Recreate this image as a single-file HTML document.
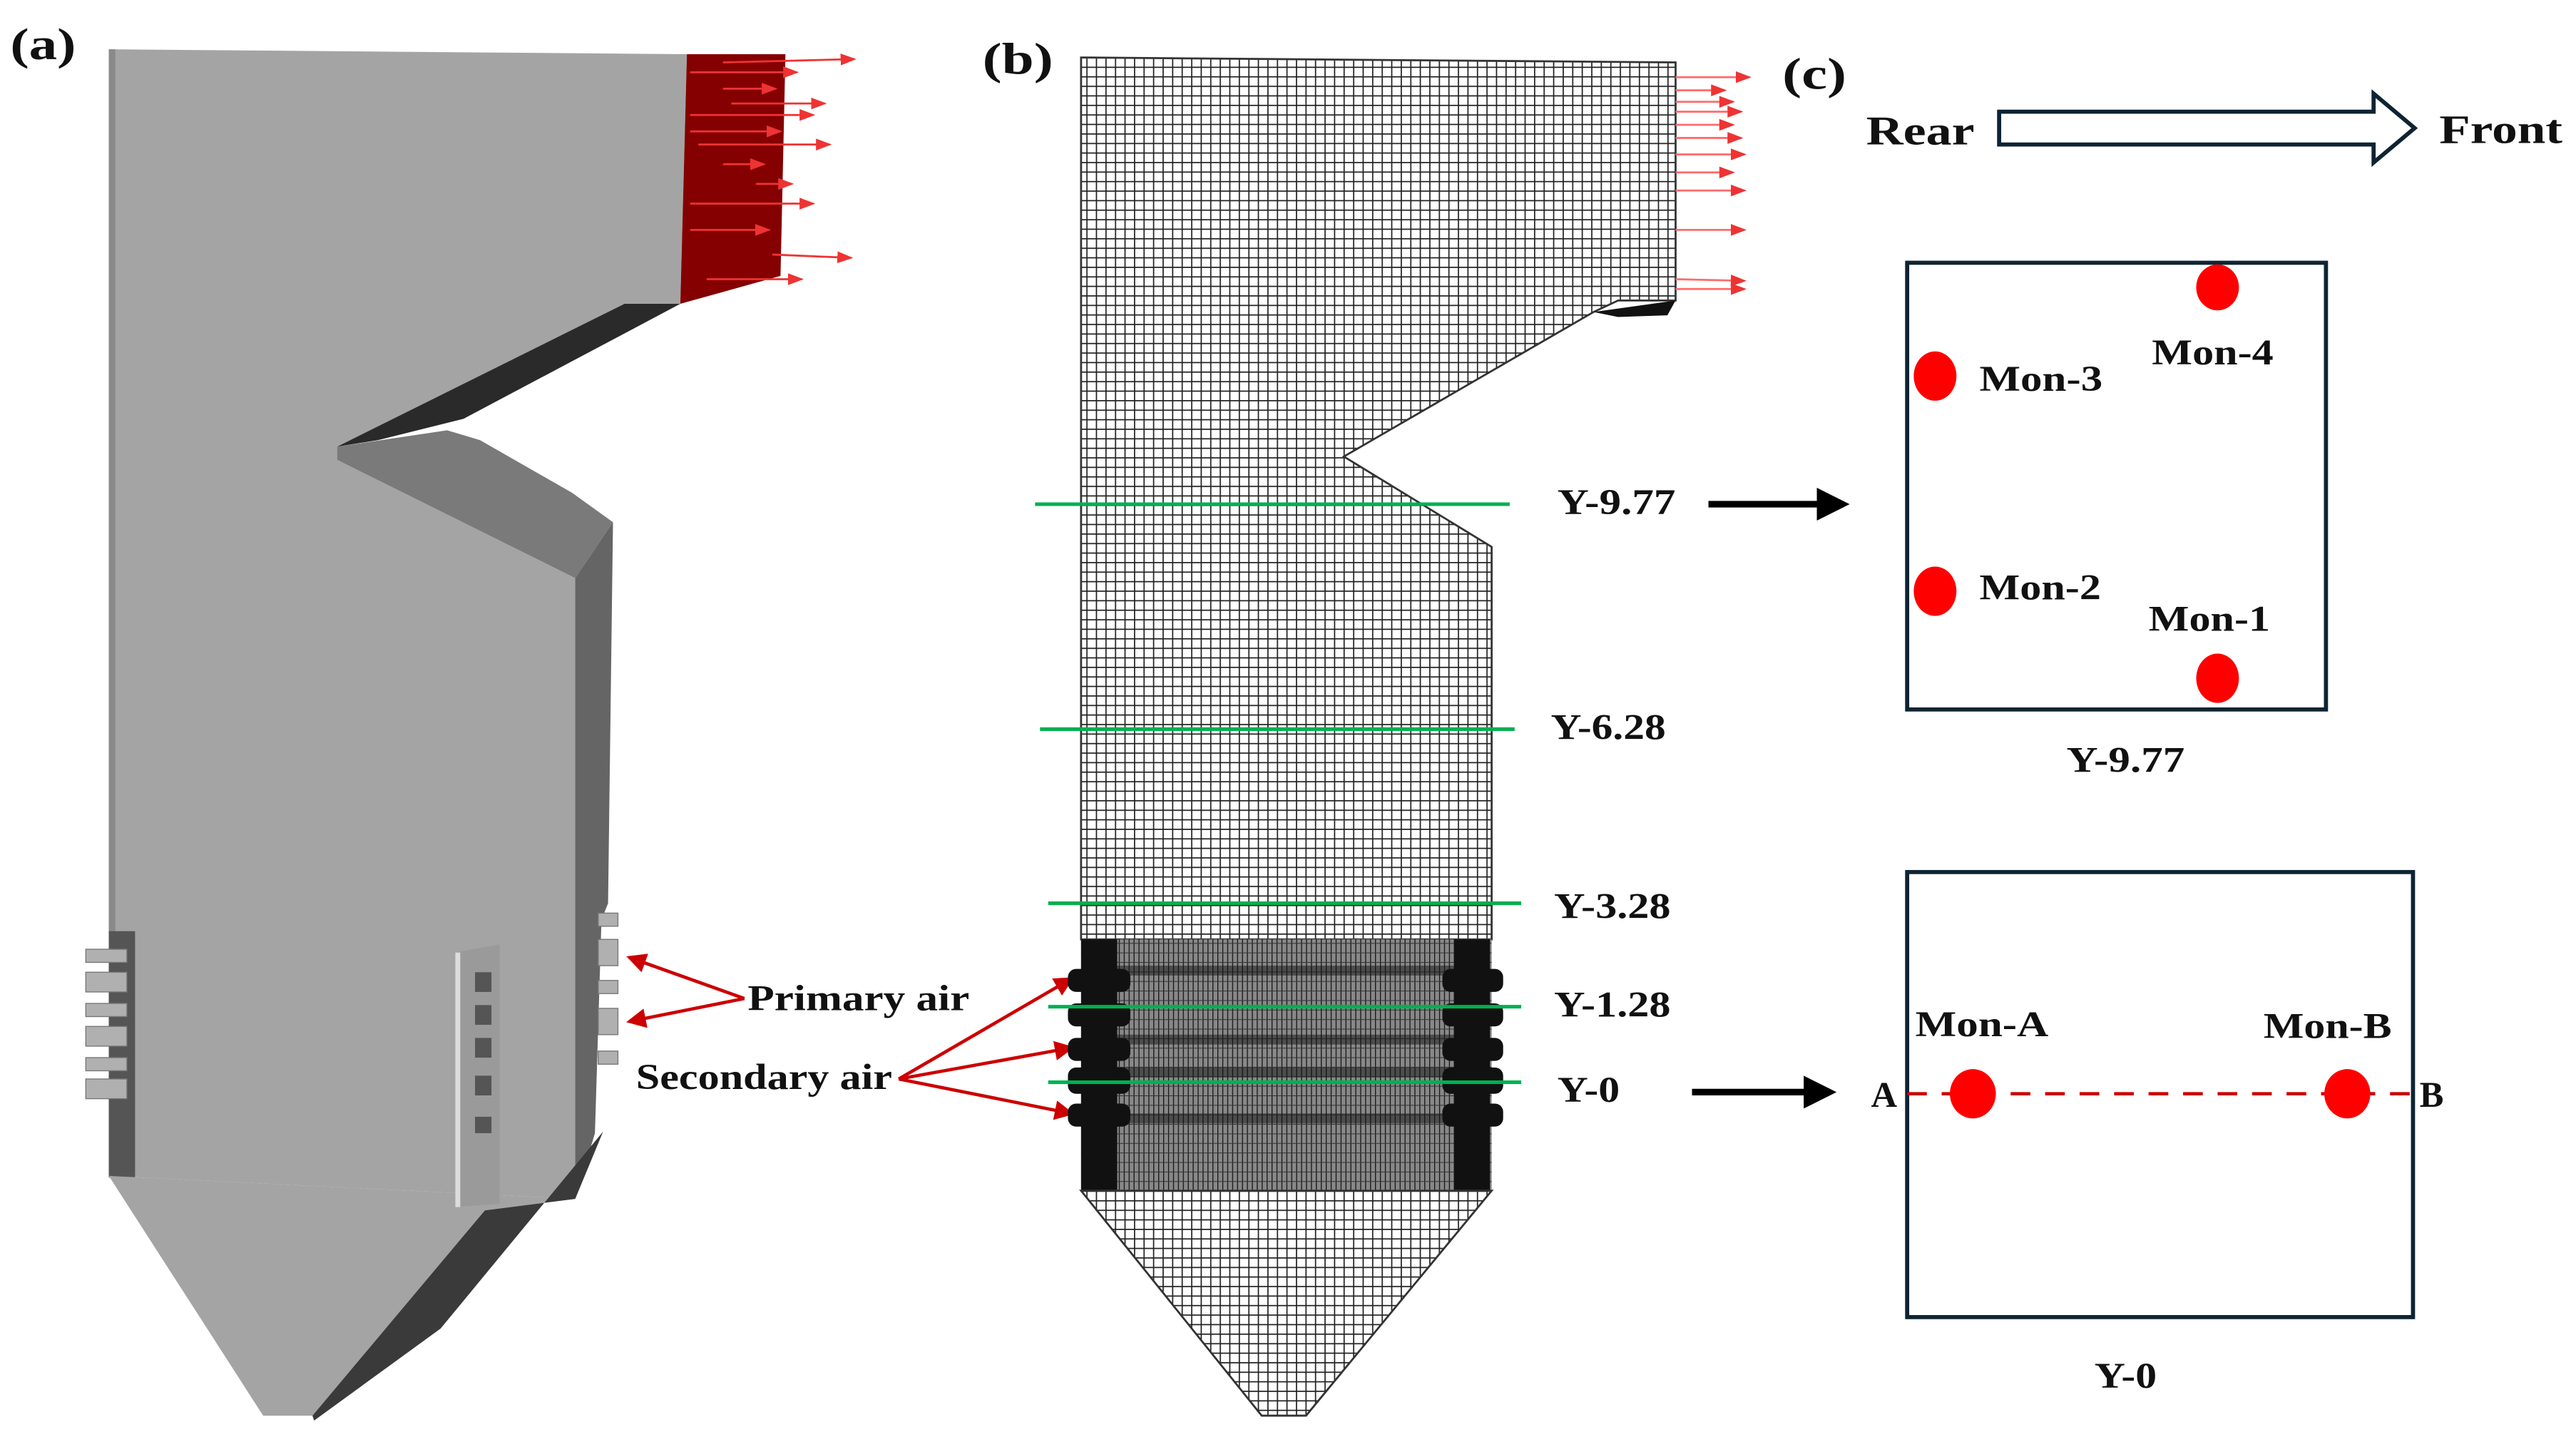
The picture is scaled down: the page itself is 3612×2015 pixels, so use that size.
<!DOCTYPE html>
<html><head><meta charset="utf-8"><style>
html,body{margin:0;padding:0;background:#fff;}
svg{display:block;}
text{font-family:"Liberation Serif",serif;font-weight:bold;fill:#111;}
</style></head><body>
<svg width="3612" height="2015" viewBox="0 0 1568 875" xmlns="http://www.w3.org/2000/svg">
<defs>
<pattern id="mesh" width="5.8" height="5.8" patternUnits="userSpaceOnUse">
<rect width="5.8" height="5.8" fill="#fff"/>
<path d="M0 0H5.8M0 0V5.8" stroke="#222" stroke-width="1.5"/>
</pattern>
<pattern id="dmesh" width="3" height="5.8" patternUnits="userSpaceOnUse">
<rect width="3" height="5.8" fill="#888"/>
<path d="M0 0V5.8" stroke="#111" stroke-width="1.1"/>
<path d="M0 0H3" stroke="#333" stroke-width="0.9"/>
</pattern>
<marker id="rh" markerWidth="8" markerHeight="6" refX="7" refY="3" orient="auto" markerUnits="strokeWidth"><path d="M0 0L8 3L0 6Z" fill="#e33"/></marker>
<marker id="dh" markerWidth="6" markerHeight="6" refX="5" refY="3" orient="auto" markerUnits="strokeWidth"><path d="M0 0L6 3L0 6Z" fill="#c00"/></marker>
<marker id="kh" markerWidth="5" markerHeight="5" refX="4" refY="2.5" orient="auto" markerUnits="strokeWidth"><path d="M0 0L5 2.5L0 5Z" fill="#000"/></marker>
</defs>

<!-- (a) -->
<text x="6" y="36" font-size="27" font-weight="normal" textLength="40" lengthAdjust="spacingAndGlyphs">(a)</text>
<polygon points="66,30 418,33 414,185 380,185 205,272 205,280 350,352 350,730 66,716" fill="#a4a4a4"/>
<polygon points="66,30 70,30 70,716 66,716" fill="#8a8a8a"/>
<polygon points="380,185 414,185 282,255 230,268 205,272" fill="#2a2a2a"/>
<polygon points="205,272 272,262 292,268 348,300 373,318 350,352 205,280" fill="#7a7a7a"/>
<polygon points="350,352 373,318 370,550 366,560 362,690 350,730" fill="#656565"/>
<polygon points="418,33 478,33 475,168 414,185" fill="#850000"/>
<g stroke="#e33" stroke-width="1.2" marker-end="url(#rh)">
<line x1="440" y1="38" x2="520" y2="36"/><line x1="420" y1="44" x2="485" y2="44"/>
<line x1="440" y1="54" x2="472" y2="54"/><line x1="445" y1="63" x2="502" y2="63"/>
<line x1="420" y1="70" x2="495" y2="70"/><line x1="420" y1="80" x2="475" y2="80"/>
<line x1="425" y1="88" x2="505" y2="88"/><line x1="440" y1="100" x2="465" y2="100"/>
<line x1="460" y1="112" x2="482" y2="112"/><line x1="420" y1="124" x2="495" y2="124"/>
<line x1="420" y1="140" x2="468" y2="140"/><line x1="470" y1="155" x2="518" y2="157"/>
<line x1="430" y1="170" x2="488" y2="170"/>
</g>
<rect x="66" y="567" width="16" height="150" fill="#555"/>
<g fill="#b0b0b0" stroke="#777" stroke-width="0.6">
<rect x="52" y="578" width="25" height="8"/><rect x="52" y="592" width="25" height="12"/>
<rect x="52" y="611" width="25" height="8"/><rect x="52" y="625" width="25" height="12"/>
<rect x="52" y="644" width="25" height="8"/><rect x="52" y="657" width="25" height="12"/>
</g>
<!-- hopper -->
<polygon points="66,716 350,730 295,737 190,862 160,862" fill="#a4a4a4"/>
<polygon points="295,737 350,730 367,689 268,809 191,865 190,862" fill="#3a3a3a"/>
<polygon points="277,580 304,575 304,733 277,735" fill="#9a9a9a"/>
<rect x="277" y="580" width="3" height="155" fill="#ddd"/>
<g fill="#555">
<rect x="289" y="592" width="10" height="12"/><rect x="289" y="612" width="10" height="12"/>
<rect x="289" y="632" width="10" height="12"/><rect x="289" y="655" width="10" height="12"/>
<rect x="289" y="680" width="10" height="10"/>
</g>
<g fill="#b0b0b0" stroke="#777" stroke-width="0.6">
<rect x="364" y="556" width="12" height="8"/><rect x="364" y="572" width="12" height="16"/>
<rect x="364" y="597" width="12" height="8"/><rect x="364" y="614" width="12" height="16"/>
<rect x="364" y="640" width="12" height="8"/>
</g>

<text x="455" y="615" font-size="22" textLength="135" lengthAdjust="spacingAndGlyphs">Primary air</text>
<text x="387" y="663" font-size="22" textLength="156" lengthAdjust="spacingAndGlyphs">Secondary air</text>
<g stroke="#c00" stroke-width="2" fill="none" marker-end="url(#dh)">
<polyline points="453,608 383,583"/>
<polyline points="453,608 383,622"/>
<polyline points="547,657 652,596"/>
<polyline points="547,657 652,638"/>
<polyline points="547,657 652,678"/>
</g>

<!-- (b) -->
<text x="598" y="45" font-size="27" font-weight="normal" textLength="43" lengthAdjust="spacingAndGlyphs">(b)</text>
<polygon points="658,35 1020,38 1020,183 985,183 970,190 818,278 908,333 908,572 658,572" fill="url(#mesh)" stroke="#333" stroke-width="1.2"/>
<polygon points="970,190 1020,183 1015,192 985,193" fill="#111"/>
<rect x="658" y="572" width="250" height="153" fill="url(#dmesh)"/>
<g fill="#111">
<rect x="658" y="572" width="22" height="153"/><rect x="885" y="572" width="22" height="153"/>
<rect x="650" y="590" width="38" height="14" rx="5"/><rect x="650" y="611" width="38" height="14" rx="5"/>
<rect x="650" y="632" width="38" height="14" rx="5"/><rect x="650" y="650" width="38" height="16" rx="5"/>
<rect x="650" y="672" width="38" height="14" rx="5"/>
<rect x="878" y="590" width="37" height="14" rx="5"/><rect x="878" y="611" width="37" height="14" rx="5"/>
<rect x="878" y="632" width="37" height="14" rx="5"/><rect x="878" y="650" width="37" height="16" rx="5"/>
<rect x="878" y="672" width="37" height="14" rx="5"/>
<rect x="680" y="588" width="205" height="6" opacity="0.5"/><rect x="680" y="630" width="205" height="6" opacity="0.5"/>
<rect x="680" y="650" width="205" height="6" opacity="0.5"/><rect x="680" y="678" width="205" height="6" opacity="0.5"/>
</g>
<polygon points="658,725 908,725 795,862 768,862" fill="url(#mesh)" stroke="#333" stroke-width="1.2"/>
<g stroke="#ff6b6b" stroke-width="1.2" marker-end="url(#rh)">
<line x1="1020" y1="47" x2="1065" y2="47"/><line x1="1020" y1="55" x2="1050" y2="55"/>
<line x1="1020" y1="62" x2="1055" y2="62"/><line x1="1020" y1="68" x2="1060" y2="68"/>
<line x1="1020" y1="76" x2="1055" y2="76"/><line x1="1020" y1="84" x2="1060" y2="84"/>
<line x1="1020" y1="94" x2="1062" y2="94"/><line x1="1020" y1="105" x2="1055" y2="105"/>
<line x1="1020" y1="116" x2="1062" y2="116"/><line x1="1020" y1="140" x2="1062" y2="140"/>
<line x1="1020" y1="170" x2="1062" y2="171"/><line x1="1020" y1="176" x2="1062" y2="176"/>
</g>
<g stroke="#00b050" stroke-width="2.2">
<line x1="630" y1="307" x2="919" y2="307"/><line x1="633" y1="444" x2="922" y2="444"/>
<line x1="638" y1="550" x2="926" y2="550"/><line x1="638" y1="613" x2="926" y2="613"/>
<line x1="638" y1="659" x2="926" y2="659"/>
</g>
<text x="948" y="313" font-size="22" textLength="72" lengthAdjust="spacingAndGlyphs">Y-9.77</text>
<text x="944" y="450" font-size="22" textLength="70" lengthAdjust="spacingAndGlyphs">Y-6.28</text>
<text x="946" y="559" font-size="22" textLength="71" lengthAdjust="spacingAndGlyphs">Y-3.28</text>
<text x="946" y="619" font-size="22" textLength="71" lengthAdjust="spacingAndGlyphs">Y-1.28</text>
<text x="948" y="671" font-size="22" textLength="38" lengthAdjust="spacingAndGlyphs">Y-0</text>
<g stroke="#000" stroke-width="4" marker-end="url(#kh)">
<line x1="1040" y1="307" x2="1122" y2="307"/>
<line x1="1030" y1="665" x2="1114" y2="665"/>
</g>

<!-- (c) -->
<text x="1085" y="54" font-size="27" font-weight="normal" textLength="39" lengthAdjust="spacingAndGlyphs">(c)</text>
<text x="1136" y="88" font-size="25" textLength="66" lengthAdjust="spacingAndGlyphs">Rear</text>
<text x="1485" y="87" font-size="25" textLength="75" lengthAdjust="spacingAndGlyphs">Front</text>
<polygon points="1217,68 1445,68 1445,57 1470,78 1445,99 1445,88 1217,88" fill="#fff" stroke="#0e2433" stroke-width="2.5"/>
<rect x="1161" y="160" width="255" height="272" fill="none" stroke="#0e2433" stroke-width="2.5"/>
<g fill="#f00">
<ellipse cx="1350" cy="175" rx="13" ry="14"/>
<ellipse cx="1178" cy="229" rx="13" ry="15"/>
<ellipse cx="1178" cy="360" rx="13" ry="15"/>
<ellipse cx="1350" cy="413" rx="13" ry="15"/>
</g>
<text x="1310" y="222" font-size="22" textLength="74" lengthAdjust="spacingAndGlyphs">Mon-4</text>
<text x="1205" y="238" font-size="22" textLength="75" lengthAdjust="spacingAndGlyphs">Mon-3</text>
<text x="1205" y="365" font-size="22" textLength="74" lengthAdjust="spacingAndGlyphs">Mon-2</text>
<text x="1308" y="384" font-size="22" textLength="74" lengthAdjust="spacingAndGlyphs">Mon-1</text>
<text x="1258" y="470" font-size="22" textLength="72" lengthAdjust="spacingAndGlyphs">Y-9.77</text>

<rect x="1161" y="531" width="308" height="271" fill="none" stroke="#0e2433" stroke-width="2.5"/>
<line x1="1161" y1="666" x2="1469" y2="666" stroke="#c00" stroke-width="2" stroke-dasharray="12,9"/>
<g fill="#f00">
<ellipse cx="1201" cy="666" rx="14" ry="15"/>
<ellipse cx="1429" cy="666" rx="14" ry="15"/>
</g>
<text x="1166" y="631" font-size="22" textLength="81" lengthAdjust="spacingAndGlyphs">Mon-A</text>
<text x="1378" y="632" font-size="22" textLength="78" lengthAdjust="spacingAndGlyphs">Mon-B</text>
<text x="1139" y="674" font-size="22">A</text>
<text x="1473" y="674" font-size="22">B</text>
<text x="1275" y="845" font-size="22" textLength="38" lengthAdjust="spacingAndGlyphs">Y-0</text>
</svg>
</body></html>
